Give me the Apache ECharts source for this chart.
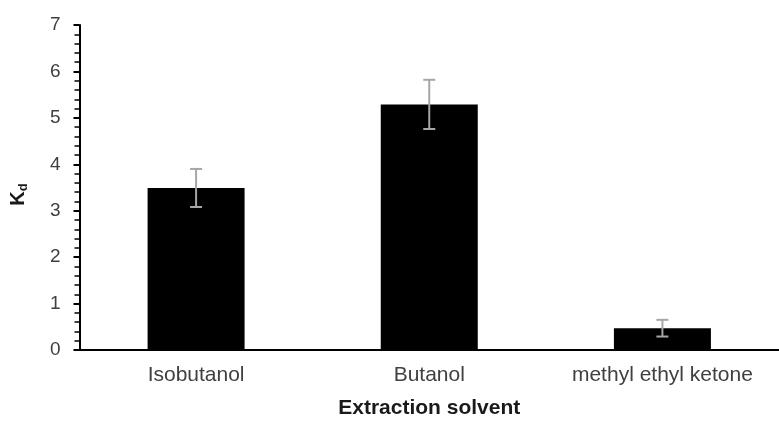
<!DOCTYPE html>
<html>
<head>
<meta charset="utf-8">
<script src="https://cdn.jsdelivr.net/npm/echarts@6/dist/echarts.min.js"></script>
<style>
  html, body { margin: 0; padding: 0; background: #ffffff; }
  #chart { width: 779px; height: 424px; }
</style>
</head>
<body>
<div id="chart"></div>
<script>
// Distribution coefficient (Kd) per extraction solvent, with standard deviation
const solvents = ['Isobutanol', 'Butanol', 'methyl ethyl ketone'];
const kdValues = [3.49, 5.29, 0.47];
const kdErrors = [0.41, 0.53, 0.18];
const yTicks = [0, 1, 2, 3, 4, 5, 6, 7];

const labelFont = 'Liberation Sans, Arial, sans-serif';

const chart = echarts.init(document.getElementById('chart'), null, { renderer: 'canvas' });

const errorData = solvents.map((s, i) => [i, kdValues[i] - kdErrors[i], kdValues[i] + kdErrors[i]]);

chart.setOption({
  animation: false,
  backgroundColor: '#ffffff',
  grid: { left: 76, right: -3, top: 25, bottom: 70.5, containLabel: false },
  xAxis: {
    type: 'category',
    data: solvents,
    name: 'Extraction solvent',
    nameLocation: 'middle',
    nameGap: 48,
    nameTextStyle: { fontFamily: labelFont, fontSize: 21, fontWeight: 'bold', color: '#1a1a1a' },
    axisLine: { lineStyle: { color: '#000000', width: 2 } },
    axisTick: { show: false },
    axisLabel: { interval: 0, hideOverlap: false, fontFamily: labelFont, fontSize: 21, color: '#404040', margin: 15 },
    splitLine: { show: false }
  },
  yAxis: {
    type: 'value',
    min: yTicks[0],
    max: yTicks[yTicks.length - 1],
    interval: 1,
    name: '{k|K}{d|d}',
    nameLocation: 'middle',
    nameRotate: 90,
    nameGap: 50,
    nameTextStyle: {
      padding: [0, 14, 0, 0],
      rich: {
        k: { fontFamily: labelFont, fontSize: 20, fontWeight: 'bold', color: '#1a1a1a' },
        d: { fontFamily: labelFont, fontSize: 13, fontWeight: 'bold', color: '#1a1a1a', padding: [10, 0, 0, 0] }
      }
    },
    axisLine: { show: true, lineStyle: { color: '#000000', width: 2 } },
    axisTick: { show: true, inside: false, length: 6, lineStyle: { color: '#000000', width: 2 } },
    minorTick: { show: true, splitNumber: 5, length: 5, lineStyle: { color: '#000000', width: 1.5 } },
    axisLabel: { fontFamily: labelFont, fontSize: 19, color: '#404040', margin: 19 },
    splitLine: { show: false }
  },
  series: [
    {
      type: 'bar',
      data: kdValues,
      barWidth: 97,
      itemStyle: { color: '#000000' }
    },
    {
      type: 'custom',
      data: errorData,
      z: 10,
      renderItem: function (params, api) {
        const x = api.value(0);
        const lo = api.coord([x, api.value(1)]);
        const hi = api.coord([x, api.value(2)]);
        const cap = 6;
        const style = { stroke: '#a6a6a6', lineWidth: 2, fill: null };
        return {
          type: 'group',
          children: [
            { type: 'line', shape: { x1: hi[0], y1: hi[1], x2: lo[0], y2: lo[1] }, style: style },
            { type: 'line', shape: { x1: hi[0] - cap, y1: hi[1], x2: hi[0] + cap, y2: hi[1] }, style: style },
            { type: 'line', shape: { x1: lo[0] - cap, y1: lo[1], x2: lo[0] + cap, y2: lo[1] }, style: style }
          ]
        };
      }
    }
  ]
});
</script>
</body>
</html>
